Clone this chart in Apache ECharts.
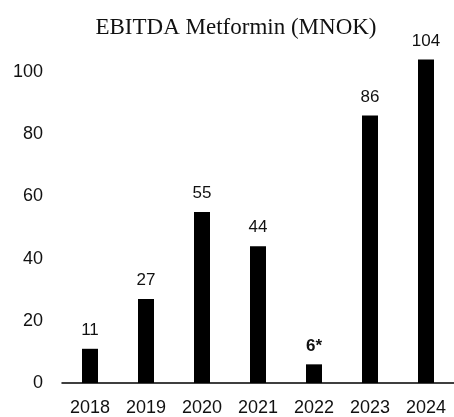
<!DOCTYPE html>
<html>
<head>
<meta charset="utf-8">
<script src="https://cdn.jsdelivr.net/npm/echarts@6/dist/echarts.min.js"></script>
<style>
  html, body { margin: 0; padding: 0; background: #fff; }
  #chart { width: 454px; height: 417px; }
</style>
</head>
<body>
<div id="chart"></div>
<script>
const years = ['2018', '2019', '2020', '2021', '2022', '2023', '2024']
const ebitda = [11, 27, 55, 44, 6, 86, 104]
const valueLabels = ['11', '27', '55', '44', '6*', '86', '104']
const yTicks = [0, 20, 40, 60, 80, 100]

const chart = echarts.init(document.getElementById('chart'))

const seriesData = ebitda.map((v, i) => {
  const item = { value: v }
  // 2022 is marked with an asterisk and drawn in bold
  if (valueLabels[i].indexOf('*') !== -1) {
    item.label = { fontWeight: 'bold' }
  }
  return item
})

const option = {
  animation: false,
  title: {
    text: 'EBITDA Metformin (MNOK)',
    left: 231,
    textAlign: 'center',
    top: 11,
    textStyle: {
      fontFamily: 'Liberation Serif',
      fontWeight: 'normal',
      fontSize: 23,
      color: '#111'
    }
  },
  grid: {
    left: 62,
    right: -2,
    top: 72,
    bottom: 30
  },
  xAxis: {
    type: 'category',
    data: years,
    axisLine: { lineStyle: { color: '#000', width: 1.5 } },
    axisTick: { show: false },
    axisLabel: {
      margin: 16,
      fontFamily: 'Liberation Sans',
      fontSize: 18,
      color: '#111'
    }
  },
  yAxis: {
    type: 'value',
    min: yTicks[0],
    max: yTicks[yTicks.length - 1],
    interval: 20,
    splitLine: { show: false },
    axisLine: { show: false },
    axisTick: { show: false },
    axisLabel: {
      margin: 19,
      fontFamily: 'Liberation Sans',
      fontSize: 18,
      color: '#111'
    }
  },
  series: [{
    type: 'bar',
    data: seriesData,
    barWidth: 16,
    clip: false,
    itemStyle: { color: '#000' },
    label: {
      show: true,
      position: 'top',
      distance: 10,
      fontFamily: 'Liberation Sans',
      fontSize: 17,
      color: '#111',
      formatter: p => valueLabels[p.dataIndex]
    }
  }]
}

chart.setOption(option)
</script>
</body>
</html>
